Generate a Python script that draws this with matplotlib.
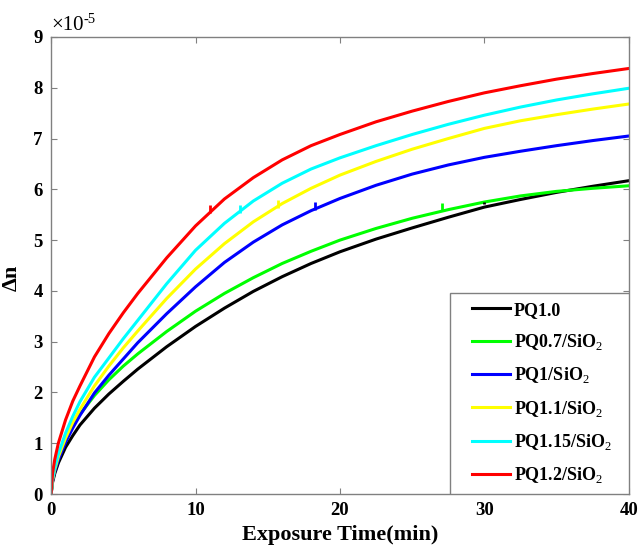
import matplotlib.pyplot as plt
import numpy as np
from matplotlib.patches import Rectangle

plt.rcParams['font.family'] = ['Liberation Serif', 'DejaVu Serif']
plt.rcParams['mathtext.fontset'] = 'custom'
plt.rcParams['mathtext.rm'] = 'Liberation Serif'
plt.rcParams['mathtext.bf'] = 'Liberation Serif:bold'

# exposure time (min)
t = [0, 0.1, 0.25, 0.5, 1, 1.5, 2, 3, 4, 5, 6, 8, 10, 12, 14, 16, 18, 20,
     22.5, 25, 27.5, 30, 32.5, 35, 37.5, 40]

# delta n, in units of 1e-5
pq10 = [0, 0.23, 0.40, 0.61, 0.92, 1.15, 1.36, 1.69, 1.97, 2.22, 2.46, 2.90,
        3.30, 3.66, 3.99, 4.28, 4.54, 4.77, 5.02, 5.24, 5.45, 5.65, 5.80,
        5.94, 6.06, 6.17]
pq07 = [0, 0.28, 0.48, 0.72, 1.07, 1.34, 1.57, 1.94, 2.25, 2.52, 2.76, 3.20,
        3.60, 3.95, 4.26, 4.54, 4.78, 5.00, 5.23, 5.43, 5.60, 5.75, 5.87,
        5.96, 6.02, 6.07]
pq1 = [0, 0.26, 0.44, 0.67, 1.02, 1.30, 1.55, 1.99, 2.34, 2.66, 2.98, 3.55,
       4.08, 4.56, 4.96, 5.30, 5.58, 5.82, 6.08, 6.30, 6.48, 6.63, 6.75,
       6.86, 6.96, 7.05]
pq11 = [0, 0.28, 0.48, 0.73, 1.10, 1.41, 1.67, 2.13, 2.52, 2.88, 3.21, 3.85,
        4.43, 4.93, 5.36, 5.72, 6.02, 6.28, 6.55, 6.79, 7.00, 7.20, 7.35,
        7.47, 7.58, 7.68]
pq115 = [0, 0.30, 0.52, 0.79, 1.20, 1.53, 1.82, 2.30, 2.68, 3.06, 3.42, 4.14,
         4.80, 5.33, 5.77, 6.12, 6.40, 6.62, 6.86, 7.08, 7.28, 7.46, 7.62,
         7.76, 7.88, 7.99]
pq12 = [0, 0.41, 0.68, 1.00, 1.46, 1.83, 2.13, 2.70, 3.16, 3.57, 3.95, 4.65,
        5.28, 5.81, 6.23, 6.58, 6.86, 7.08, 7.33, 7.54, 7.73, 7.90, 8.04,
        8.17, 8.28, 8.38]

labels = ['PQ1.0', 'PQ0.7/SiO$_2$', 'PQ1/SiO$_2$', 'PQ1.1/SiO$_2$',
          'PQ1.15/SiO$_2$', 'PQ1.2/SiO$_2$']
colors = ['#000000', '#00ff00', '#0000ff', '#ffff00', '#00ffff', '#ff0000']
series = [pq10, pq07, pq1, pq11, pq115, pq12]

# small tick marks sitting on each curve
mark_t = [30.0, 27.1, 18.3, 15.7, 13.05, 11.0]
mark_y = [5.74, 5.66, 5.68, 5.72, 5.62, 5.62]

fig = plt.figure(figsize=(6.39, 5.48), dpi=100)
ax = fig.add_axes([0.080, 0.0985, 0.904, 0.834])

for ys, c, lab in zip(series, colors, labels):
    ax.plot(t, ys, color=c, lw=2.2, label=lab)

for i in range(len(mark_t)):
    ms = 2 if i == 0 else 6
    ax.plot(mark_t[i], mark_y[i], marker='|', color=colors[i], ms=ms, mew=2)

ax.set_xlim(0, 40)
ax.set_ylim(0, 9)
ax.set_xticks([0, 10, 20, 30, 40])
ax.set_yticks(np.arange(0, 10, 1))
ax.tick_params(direction='in', length=4, width=0.8, color='#808080',
               top=True, right=True, labelsize=13.5, pad=6)
for lb in ax.get_xticklabels() + ax.get_yticklabels():
    lb.set_fontweight('bold')
for sp in ax.spines.values():
    sp.set_color('#808080')
    sp.set_linewidth(1.0)

ax.set_xlabel('Exposure Time(min)', fontsize=16, fontweight='bold', labelpad=4)
ax.set_ylabel('Δn', fontsize=16, fontweight='bold', labelpad=0)
ax.yaxis.set_label_coords(-0.05, 0.473)

# x10^-5 multiplier, with a short hyphen as in the original
mult = ax.text(0.0, 1.004, '×10', transform=ax.transAxes,
               fontsize=15, ha='left', va='bottom')
ax.annotate('-5', xy=(1.0, 1.15), xycoords=mult, fontsize=10.5,
            ha='left', va='top')

# legend box drawn by hand so its padding can match the original
ax.add_patch(Rectangle((0.690, 0.0), 0.310, 0.440, transform=ax.transAxes,
                       facecolor='white', edgecolor='#808080', lw=1.0,
                       zorder=4))
leg = ax.legend(loc='upper left', bbox_to_anchor=(0.729, 0.421),
                borderaxespad=0, borderpad=0, frameon=False,
                prop={'weight': 'bold', 'size': 13}, handlelength=2.1,
                handletextpad=0.2, labelspacing=0.74)
leg.set_zorder(5)
for txt in leg.get_texts():
    txt.set_fontweight('bold')

fig.savefig('out.png', dpi=100)
